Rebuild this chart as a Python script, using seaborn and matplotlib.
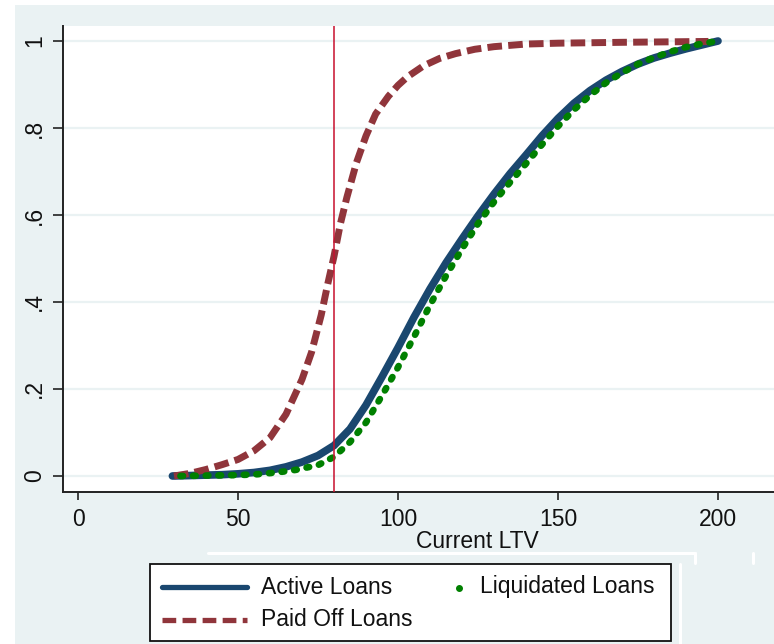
import numpy as np
import pandas as pd
import matplotlib
matplotlib.use("Agg")
import matplotlib.pyplot as plt
from matplotlib.patches import Rectangle
from matplotlib.lines import Line2D
import seaborn as sns

# CDF of current LTV
active_x = [29.5, 35, 40, 45, 50, 55, 60, 65, 70, 75, 80, 85, 90, 95, 100, 105, 110,
            115, 120, 125, 130, 135, 140, 145, 150, 155, 160, 165, 170, 175, 180, 185,
            190, 195, 200]
active_y = [0.0, 0.001, 0.002, 0.003, 0.005, 0.008, 0.013, 0.021, 0.032, 0.047, 0.07,
            0.108, 0.163, 0.228, 0.295, 0.365, 0.43, 0.49, 0.545, 0.598, 0.648, 0.695,
            0.738, 0.782, 0.822, 0.857, 0.886, 0.91, 0.93, 0.947, 0.961, 0.972, 0.982,
            0.991, 1.0]

paid_x = [30, 35, 40, 45, 50, 55, 60, 65, 70, 73, 76, 78, 80, 82, 84, 87, 90, 93, 97,
          100, 103, 108, 113, 118, 124, 130, 140, 150, 170, 197]
paid_y = [0.0, 0.006, 0.015, 0.026, 0.038, 0.058, 0.088, 0.142, 0.222, 0.285, 0.37,
          0.44, 0.505, 0.58, 0.64, 0.72, 0.782, 0.832, 0.873, 0.898, 0.918, 0.943,
          0.96, 0.971, 0.981, 0.987, 0.993, 0.995, 0.997, 0.999]

liq_x = [32, 40, 50, 56, 62, 68, 75, 80, 85, 90, 95, 100, 105, 110, 115, 120, 125, 130,
         135, 140, 145, 150, 155, 160, 165, 170, 175, 180, 185, 190, 195, 200]
liq_y = [0.0, 0.001, 0.002, 0.004, 0.008, 0.014, 0.025, 0.044, 0.078, 0.123, 0.185,
         0.25, 0.32, 0.393, 0.46, 0.522, 0.58, 0.63, 0.675, 0.718, 0.762, 0.804, 0.842,
         0.875, 0.904, 0.927, 0.947, 0.962, 0.975, 0.986, 0.994, 1.0]

xticks = [0, 50, 100, 150, 200]
yticks = [0, 0.2, 0.4, 0.6, 0.8, 1]
ylabels = ["0", ".2", ".4", ".6", ".8", "1"]
cutoff = 80

navy = "#1a476f"
maroon = "#90353b"
green = "#008000"
bg = "#eaf2f3"

sns.set_style("ticks")
plt.rcParams["font.family"] = ["Liberation Sans", "DejaVu Sans"]

W, H = 774, 644
fig = plt.figure(figsize=(W / 100, H / 100), dpi=100, facecolor="white")
fig.add_artist(Rectangle((15 / W, 0), 1 - 15 / W, 1 - 5 / H, transform=fig.transFigure,
                         facecolor=bg, edgecolor="none", zorder=-10))

ax = fig.add_axes([63 / W, 1 - 492 / H, 1 - 63 / W, (492 - 26) / H])
ax.set_facecolor("white")

sns.lineplot(x=active_x, y=active_y, ax=ax, color=navy, lw=5.5, sort=False,
             estimator=None, solid_capstyle="round", solid_joinstyle="round", zorder=3)
sns.lineplot(x=paid_x, y=paid_y, ax=ax, color=maroon, lw=5, sort=False, estimator=None,
             linestyle=(0, (2.1, 0.9)), zorder=4)
sns.lineplot(x=liq_x, y=liq_y, ax=ax, color=green, lw=4.8, sort=False, estimator=None,
             linestyle=(0, (0.4, 1.5)), dash_capstyle="round", zorder=5)
ax.axvline(cutoff, color="#c8102e", lw=1.1, zorder=6)

ax.set_xlim(-4.69, 217.5)
ax.set_ylim(-0.0368, 1.0345)
ax.set_xticks(xticks)
ax.set_xticklabels([str(v) for v in xticks])
ax.set_yticks(yticks)
ax.set_yticklabels(ylabels, rotation=90, va="center")
for y in yticks:
    ax.axhline(y, color=bg, lw=1.6, zorder=1)

ax.tick_params(axis="both", labelsize=16.5, colors="#111111", width=1.1)
ax.tick_params(axis="x", length=5.5, pad=6)
ax.tick_params(axis="y", length=7, pad=5)
for s in ["top", "right"]:
    ax.spines[s].set_visible(False)
for s in ["left", "bottom"]:
    ax.spines[s].set_color("#222222")
    ax.spines[s].set_linewidth(1.4)

ax.set_xlabel("Current LTV", fontsize=16.5, color="#111111")
ax.xaxis.set_label_coords((477 - 63) / (W - 63), -0.082)
ax.set_ylabel("")


# legend drawn by hand in pixel positions, like the Stata box
def fx(x):
    return x / W


def fy(y):
    return 1 - y / H


fig.add_artist(Rectangle((fx(150), fy(641)), (671 - 150) / W, (641 - 564) / H,
                         transform=fig.transFigure, facecolor="white",
                         edgecolor="#111111", lw=1.3, zorder=5))
fig.add_artist(Line2D([fx(162), fx(247)], [fy(587), fy(587)], color=navy, lw=3.8,
                      transform=fig.transFigure, zorder=6))
fig.add_artist(Line2D([fx(162), fx(247)], [fy(620), fy(620)], color=maroon, lw=3.8,
                      linestyle=(0, (2.6, 1.2)), transform=fig.transFigure, zorder=6))
fig.add_artist(Line2D([fx(459)], [fy(588)], color=green, marker="o", markersize=4,
                      linestyle="none", transform=fig.transFigure, zorder=6))
fig.text(fx(261), fy(587), "Active Loans", fontsize=16.5, va="center", ha="left",
         color="#111111", zorder=7)
fig.text(fx(480), fy(587), "Liquidated Loans", fontsize=16.5, va="center", ha="left",
         color="#111111", zorder=7)
fig.text(fx(261), fy(620), "Paid Off Loans", fontsize=16.5, va="center", ha="left",
         color="#111111", zorder=7)

# white leftovers round the legend area
for xs, ys in [([208, 695], [553, 553]), ([695, 695], [553, 563]),
               ([753, 753], [553, 563]), ([680, 680], [564, 644])]:
    fig.add_artist(Line2D([fx(v) for v in xs], [fy(v) for v in ys], color="white",
                          lw=2.2, transform=fig.transFigure, zorder=4))

fig.savefig("out.png", dpi=100)
